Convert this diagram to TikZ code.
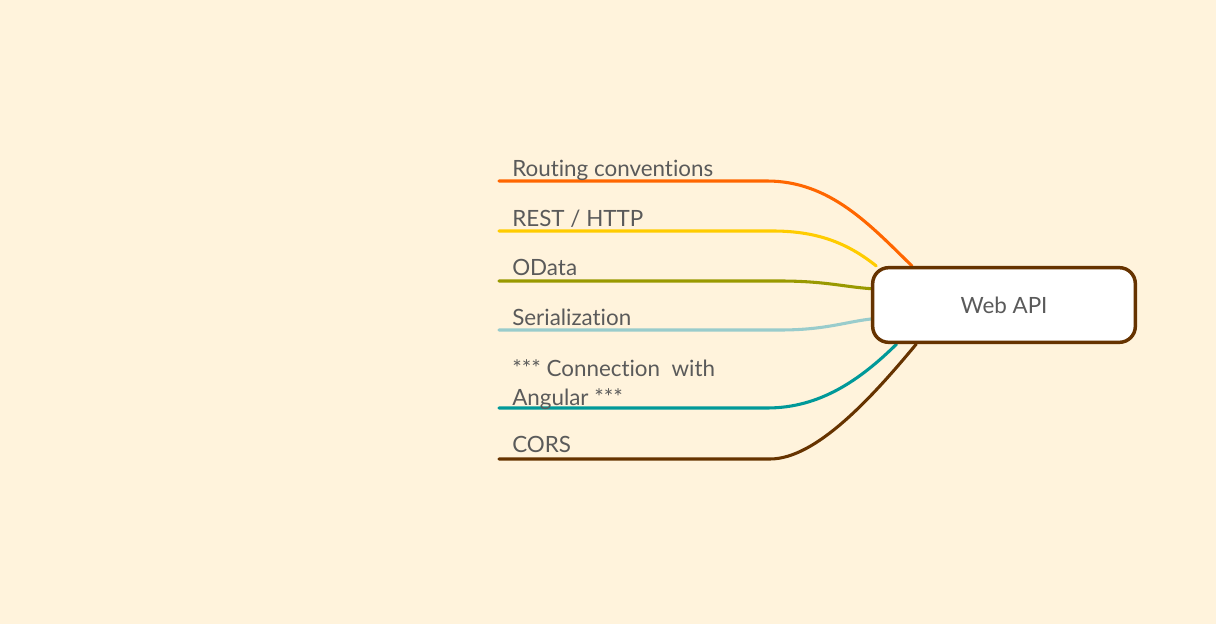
\documentclass[tikz,border=0pt]{standalone}
\usepackage{fontspec}
\setmainfont{Lato}[Ligatures=NoCommon]
\usetikzlibrary{positioning}

\definecolor{paper}{HTML}{FFF3DC}
\definecolor{inkgray}{HTML}{5A5A5A}
\definecolor{rootbrown}{HTML}{663300}
\definecolor{routingorange}{HTML}{FF6600}
\definecolor{restyellow}{HTML}{FFCC00}
\definecolor{odataolive}{HTML}{999900}
\definecolor{serialteal}{HTML}{99CCCC}
\definecolor{angularteal}{HTML}{009999}

\pgfdeclarelayer{behind}
\pgfsetlayers{behind,main}

\begin{document}
\begin{tikzpicture}[x=0.75pt, y=-0.75pt,
    branch/.style={line width=2.3pt, line cap=round},
    topic/.style={anchor=base west, inner sep=0pt, text=inkgray, align=left,
        font=\fontsize{16.8}{21.75}\selectfont},
    root/.style={draw=rootbrown, line width=2.6pt, fill=white, rounded corners=12pt,
        minimum width=197pt, minimum height=56pt, inner sep=0pt, text=inkgray,
        font=\fontsize{16.8}{18}\selectfont}]

        % Canvas
        \useasboundingbox (0,0) rectangle (1216,624);

        % Points
        \coordinate (routing-start) at (499,181);
        \coordinate (routing-bend) at (767,181);
        \coordinate (rest-start) at (499,231);
        \coordinate (rest-bend) at (773,231);
        \coordinate (odata-start) at (499,281);
        \coordinate (odata-bend) at (780,281);
        \coordinate (serial-start) at (499,330);
        \coordinate (serial-bend) at (780,330);
        \coordinate (angular-start) at (499,408);
        \coordinate (angular-bend) at (767,408);
        \coordinate (cors-start) at (499,459);
        \coordinate (cors-bend) at (770,459);

        % Root
        \node[root] (webapi) at (1004,305) {Web API};

        % Branches, under the root
        \begin{pgfonlayer}{behind}
        \fill[paper] (0,0) rectangle (1216,624);
        \draw[branch, routingorange] (routing-start) -- (routing-bend)
            .. controls (830,181) and (870,225) .. (webapi.157);
        \draw[branch, restyellow] (rest-start) -- (rest-bend)
            .. controls (820,231) and (850,245) .. (webapi.163);
        \draw[branch, odataolive] (odata-start) -- (odata-bend)
            .. controls (825,281) and (845,287) .. (webapi.173);
        \draw[branch, serialteal] (serial-start) -- (serial-bend)
            .. controls (825,330) and (845,322) .. (webapi.186);
        \draw[branch, angularteal] (angular-start) -- (angular-bend)
            .. controls (820,408) and (860,380) .. (webapi.200);
        \draw[branch, rootbrown] (cors-start) -- (cors-bend)
            .. controls (815,459) and (870,400) .. (webapi.204);
        \end{pgfonlayer}

        % Labels
        \node[topic] (routing) at (512,176) {Routing conventions};
        \node[topic] (rest) at (512,226) {REST / HTTP};
        \node[topic] (odata) at (512,275) {OData};
        \node[topic] (serial) at (512,325) {Serialization};
        \node[topic] (angular) at (512,405) {*** Connection\ \ with\\Angular ***};
        \node[topic] (cors) at (512,452) {CORS};

    \end{tikzpicture}
\end{document}
